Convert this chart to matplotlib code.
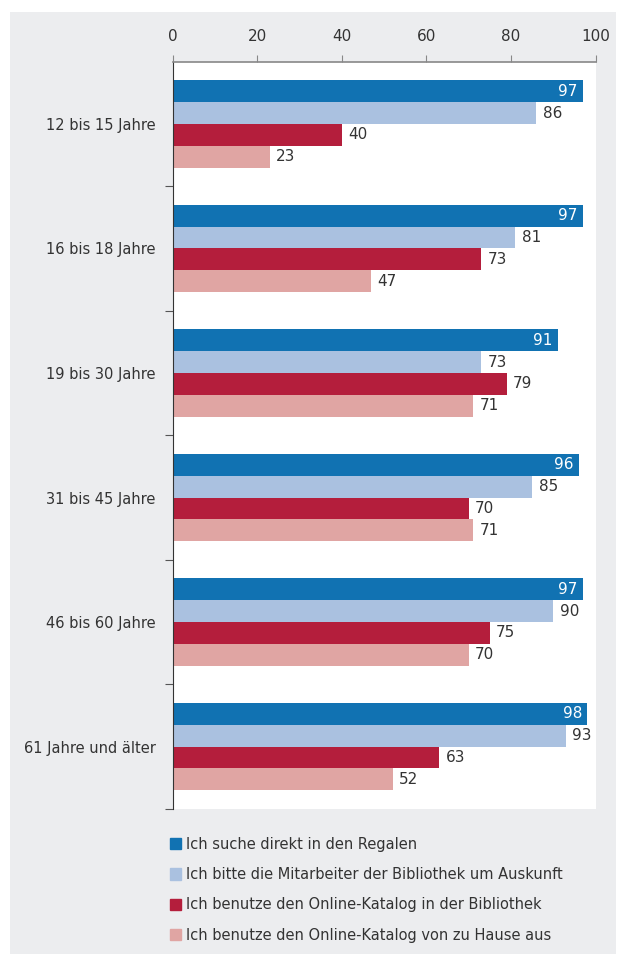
import numpy as np
import matplotlib.pyplot as plt
from matplotlib.patches import Rectangle

groups = ["12 bis 15 Jahre", "16 bis 18 Jahre", "19 bis 30 Jahre",
          "31 bis 45 Jahre", "46 bis 60 Jahre", "61 Jahre und älter"]
series = ["Ich suche direkt in den Regalen",
          "Ich bitte die Mitarbeiter der Bibliothek um Auskunft",
          "Ich benutze den Online-Katalog in der Bibliothek",
          "Ich benutze den Online-Katalog von zu Hause aus"]
regale = [97, 97, 91, 96, 97, 98]
auskunft = [86, 81, 73, 85, 90, 93]
opac_bib = [40, 73, 79, 70, 75, 63]
opac_haus = [23, 47, 71, 71, 70, 52]
values = [regale, auskunft, opac_bib, opac_haus]
colors = ["#1172B2", "#AAC1E0", "#B41E3C", "#E0A5A3"]
xticks = [0, 20, 40, 60, 80, 100]

txt = "#333333"
plt.rcParams["font.family"] = ["DejaVu Sans"]

fig = plt.figure(figsize=(6.25, 9.64), dpi=100)
fig.patch.set_facecolor("white")
# grey panel behind everything
fig.add_artist(Rectangle((0.016, 0.01), 0.97, 0.978, transform=fig.transFigure,
                         facecolor="#ECEDEF", edgecolor="none", zorder=0))

ax = fig.add_axes([0.276, 0.161, 0.677, 0.775])
ax.set_facecolor("white")

y = np.arange(len(groups))
h = 0.175
for j, (vals, col) in enumerate(zip(values, colors)):
    pos = y - 0.35 + h * (j + 0.5)
    ax.barh(pos, vals, height=h, color=col, linewidth=0)
    for p, v in zip(pos, vals):
        if j == 0:
            ax.text(v - 1.2, p, str(v), ha="right", va="center",
                    color="white", fontsize=11)
        else:
            ax.text(v + 1.5, p, str(v), ha="left", va="center",
                    color=txt, fontsize=11)

ax.set_xlim(0, 100)
ax.set_ylim(len(groups) - 0.5, -0.5)
ax.xaxis.tick_top()
ax.set_xticks(xticks)
ax.tick_params(axis="x", direction="out", length=5, color="#888888",
               labelsize=11, labelcolor=txt, pad=8)

ax.set_yticks(y[:-1] + 0.5)
ax.set_yticks(np.append(y[:-1] + 0.5, len(groups) - 0.5))
ax.set_yticklabels([])
ax.set_yticks(y, minor=True)
ax.set_yticklabels(groups, minor=True)
ax.tick_params(axis="y", which="major", direction="out", length=6,
               color="#555555")
ax.tick_params(axis="y", which="minor", length=0, labelsize=10.5,
               labelcolor=txt, pad=12)

for s in ["right", "bottom"]:
    ax.spines[s].set_visible(False)
ax.spines["top"].set_color("#888888")
ax.spines["top"].set_linewidth(1.2)
ax.spines["left"].set_color("#333333")

handles = [Rectangle((0, 0), 1, 1, color=c) for c in colors]
fig.legend(handles, series, loc="upper left", bbox_to_anchor=(0.262, 0.138),
           frameon=False, handlelength=0.8, handleheight=0.8,
           handletextpad=0.3, labelspacing=1.05, fontsize=10.5,
           labelcolor=txt, borderaxespad=0)

fig.savefig("out.png", dpi=100, facecolor=fig.get_facecolor())
